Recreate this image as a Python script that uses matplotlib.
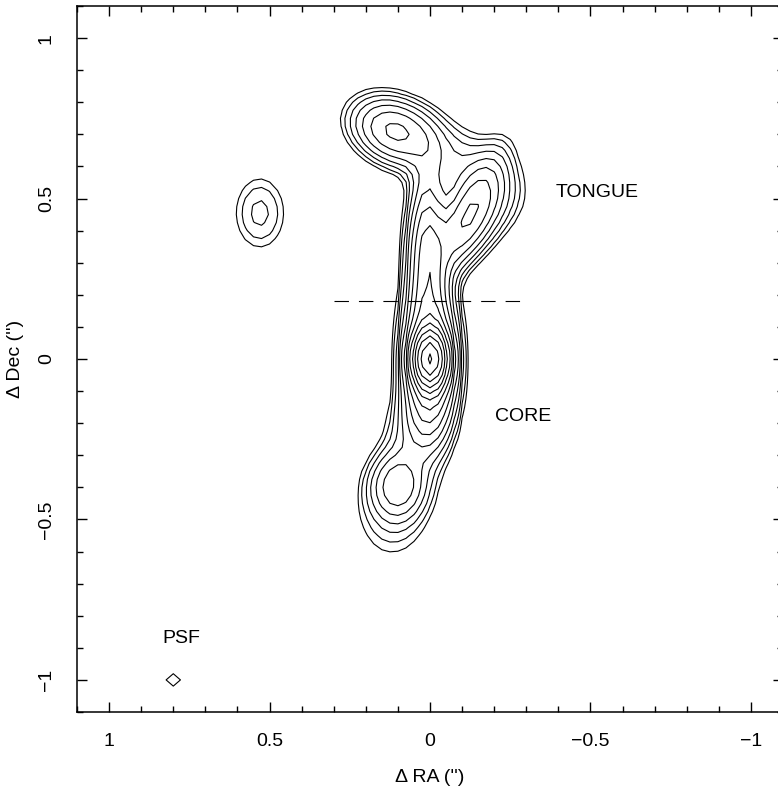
import numpy as np
import matplotlib
matplotlib.use("Agg")
import matplotlib.pyplot as plt
from matplotlib.ticker import FixedLocator, MultipleLocator

plt.rcParams['font.family'] = ['Liberation Sans', 'DejaVu Sans']

# Emission components (RA offset, Dec offset in arcsec), peak in units of lowest contour
comp_names = ['core', 'core_halo', 'ridge', 'tongue_env', 'tongue_peak', 'north', 'bridge',
              'south', 'south_tail', 'link', 'isolated', 'psf']
comp_ra    = [0.00, 0.00, 0.01, -0.12, -0.12, 0.11, -0.11, 0.10, 0.12, 0.05, 0.53, 0.80]
comp_dec   = [0.00, 0.00, 0.33, 0.43, 0.445, 0.71, 0.59, -0.395, -0.50, -0.21, 0.455, -1.00]
comp_amp   = [110.0, 25.0, 11.5, 5.0, 6.6, 8.5, 2.6, 6.5, 1.6, 3.0, 2.25, 1.4]
comp_smaj  = [0.050, 0.14, 0.15, 0.10, 0.13, 0.085, 0.12, 0.065, 0.10, 0.10, 0.083, 0.030]
comp_smin  = [0.028, 0.045, 0.035, 0.06, 0.04, 0.06, 0.075, 0.055, 0.08, 0.055, 0.0575, 0.025]
comp_theta = [90.0, 90.0, 90.0, 129.0, 115.0, 24.0, 35.5, 90.0, 90.0, -76.0, 90.0, 30.0]

# Contour levels: factors of sqrt(2)
contour_levels = [1.0, 1.414, 2.0, 2.828, 4.0, 5.657, 8.0, 11.31, 16.0, 22.63,
                  32.0, 45.25, 64.0, 90.51, 128.0]

# Annotations
labels_text = ['TONGUE', 'CORE', 'PSF']
labels_ra   = [-0.52, -0.29, 0.775]
labels_dec  = [0.52, -0.18, -0.87]
dash_ra  = [0.30, -0.30]
dash_dec = [0.18, 0.18]

tick_vals   = [1, 0.5, 0, -0.5, -1]
tick_labels = ['1', '0.5', '0', '\u22120.5', '\u22121']

# grid
step = 0.025
ra = np.arange(-1.1, 1.1 + step / 2, step)
dec = np.arange(-1.1, 1.1 + step / 2, step)
RA, DEC = np.meshgrid(ra, dec)
field = np.zeros_like(RA)
for x0, y0, a, smaj, smin, th in zip(comp_ra, comp_dec, comp_amp, comp_smaj, comp_smin, comp_theta):
    t = np.deg2rad(th)
    dx = RA - x0
    dy = DEC - y0
    u = dx * np.cos(t) + dy * np.sin(t)
    v = -dx * np.sin(t) + dy * np.cos(t)
    field += a * np.exp(-0.5 * ((u / smaj) ** 2 + (v / smin) ** 2))

fig = plt.figure(figsize=(7.78, 7.90), dpi=100)
ax = fig.add_axes([77 / 778, 78 / 790, 706 / 778, 706 / 790])
ax.contour(RA, DEC, field, levels=contour_levels, colors='black', linewidths=0.8,
           linestyles='solid')
ax.plot(dash_ra, dash_dec, color='black', linewidth=0.8, dashes=(13, 9))
for t, x, y in zip(labels_text, labels_ra, labels_dec):
    ax.text(x, y, t, fontsize=14, ha='center', va='center')

ax.set_xlim(1.1, -1.1)
ax.set_ylim(-1.1, 1.1)
ax.xaxis.set_major_locator(FixedLocator(tick_vals))
ax.yaxis.set_major_locator(FixedLocator(tick_vals))
ax.set_xticklabels(tick_labels)
ax.set_yticklabels(tick_labels, rotation=90, va='center')
ax.xaxis.set_minor_locator(MultipleLocator(0.1))
ax.yaxis.set_minor_locator(MultipleLocator(0.1))
ax.tick_params(which='both', direction='in', top=True, right=True, width=1.0,
               labelsize=14)
ax.tick_params(which='major', length=7.2)
ax.tick_params(which='minor', length=4.3)
ax.tick_params(axis='x', pad=15)
ax.tick_params(axis='y', pad=16)
for s in ax.spines.values():
    s.set_linewidth(1.1)
ax.set_xlabel('\u0394 RA (\'\')', fontsize=14, labelpad=14)
ax.set_ylabel('\u0394 Dec (\'\')', fontsize=14, labelpad=10)

fig.savefig('out.png', dpi=100)
